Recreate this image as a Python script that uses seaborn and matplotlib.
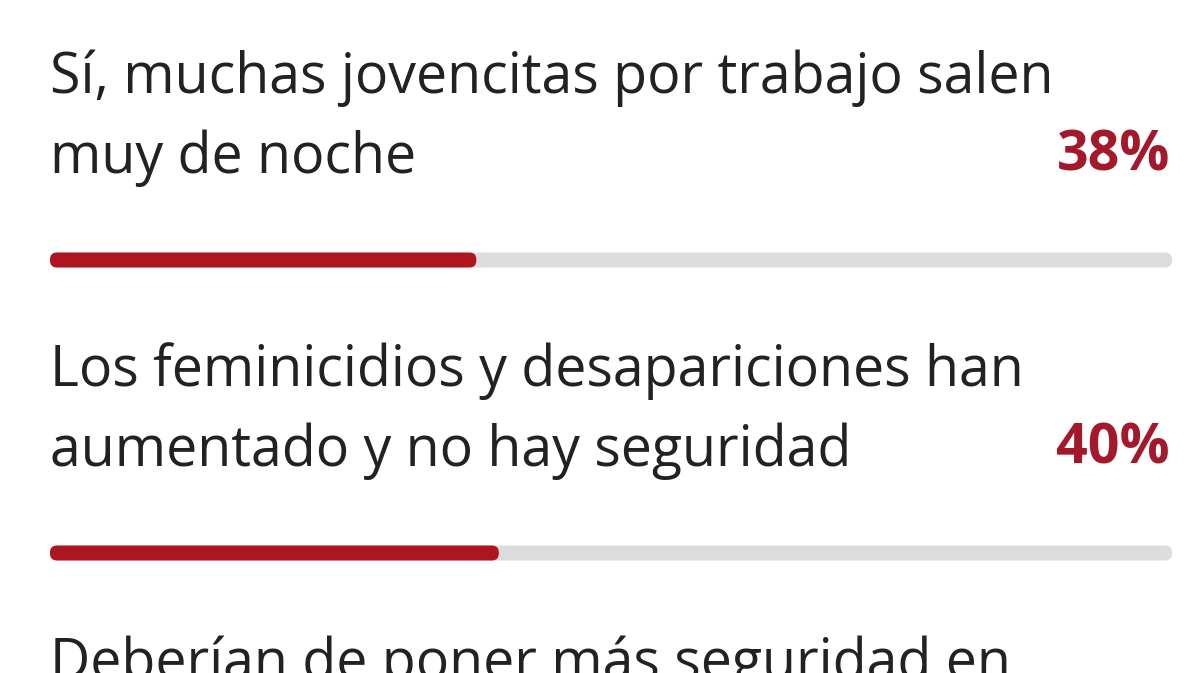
import matplotlib
matplotlib.use("Agg")
import matplotlib.pyplot as plt
from matplotlib.patches import FancyBboxPatch
import seaborn as sns
import pandas as pd

# ---- data ----
options = [
    "Sí, muchas jovencitas por trabajo salen muy de noche",
    "Los feminicidios y desapariciones han aumentado y no hay seguridad",
    "Deberían de poner más seguridad en",
]
line1 = [
    "Sí, muchas jovencitas por trabajo salen",
    "Los feminicidios y desapariciones han",
    "Deberían de poner más seguridad en",
]
line2 = [
    "muy de noche",
    "aumentado y no hay seguridad",
    "",
]
values = [38, 40, 22]
pct_labels = ["38%", "40%", "22%"]

RED = "#ad1520"
PCT_RED = "#a3192b"
GRAY = "#dcdcdc"
TEXT = "#222222"

sns.set_theme(style="white")
plt.rcParams["font.family"] = ["Open Sans", "DejaVu Sans"]

W, H = 1200, 673
fig = plt.figure(figsize=(W / 100, H / 100), dpi=100)
fig.patch.set_facecolor("white")
left_px, right_px = 50, 1172
ax = fig.add_axes([left_px / W, 0, (right_px - left_px) / W, 1])

df = pd.DataFrame({"option": options, "value": values, "full": [100] * len(values)})

unit_px = 293.0          # pixels per category step
bar_h = 15 / unit_px

sns.barplot(data=df, x="full", y="option", orient="h", color=GRAY,
            width=bar_h, linewidth=0, ax=ax, saturation=1)
sns.barplot(data=df, x="value", y="option", orient="h", color=RED,
            width=bar_h, linewidth=0, ax=ax, saturation=1)

ax.set_xlim(0, 100)
top_c = 260.0
ax.set_ylim((H - top_c) / unit_px, -top_c / unit_px)
ax.axis("off")

# round the bar ends
px_per_x = (right_px - left_px) / 100.0
aspect = px_per_x / unit_px
rad = 7.0 / px_per_x
for p in list(ax.patches):
    x0, y0 = p.get_x(), p.get_y()
    w, h = p.get_width(), p.get_height()
    fc = p.get_facecolor()
    z = p.get_zorder()
    p.remove()
    fp = FancyBboxPatch((x0, y0), w, h,
                        boxstyle=f"round,pad=0,rounding_size={rad}",
                        mutation_aspect=aspect, facecolor=fc, edgecolor="none",
                        zorder=z)
    ax.add_patch(fp)

fs = 40
for i in range(len(options)):
    ax.text(0, i - 167 / unit_px, line1[i], fontsize=fs, color=TEXT,
            ha="left", va="baseline", clip_on=False)
    if line2[i]:
        ax.text(0, i - 87 / unit_px, line2[i], fontsize=fs, color=TEXT,
                ha="left", va="baseline", clip_on=False)
        ax.text((1170 - left_px) / px_per_x, i - 90 / unit_px, pct_labels[i],
                fontsize=fs, color=PCT_RED, fontweight="bold",
                ha="right", va="baseline", clip_on=False)

fig.savefig("out.png", dpi=100, facecolor="white")
